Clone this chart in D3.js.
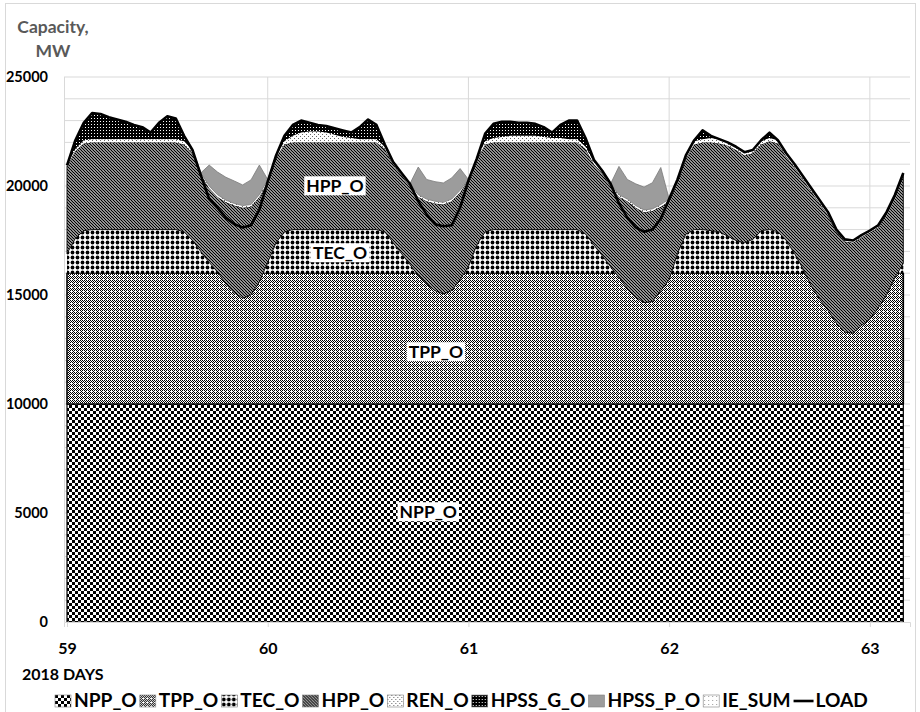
<!DOCTYPE html>
<html>
<head>
<meta charset="utf-8">
<script src="https://cdn.jsdelivr.net/npm/d3@7"></script>
<style>
  body { margin: 0; background: #fff; }
  text { font-family: Lato, "Open Sans", sans-serif; font-weight: bold; }
</style>
</head>
<body>
<script>
// hourly values, day 59 00:00 .. day 63 04:00 (MW)
var START_DAY = 59;
var HOURS = d3.range(101);

var NPP_O = [
  10000,10000,10000,10000,10000,10000,10000,10000,10000,10000,10000,10000,10000,10000,10000,10000,10000,10000,10000,10000,10000,10000,10000,10000,
  10000,10000,10000,10000,10000,10000,10000,10000,10000,10000,10000,10000,10000,10000,10000,10000,10000,10000,10000,10000,10000,10000,10000,10000,
  10000,10000,10000,10000,10000,10000,10000,10000,10000,10000,10000,10000,10000,10000,10000,10000,10000,10000,10000,10000,10000,10000,10000,10000,
  10000,10000,10000,10000,10000,10000,10000,10000,10000,10000,10000,10000,10000,10000,10000,10000,10000,10000,10000,10000,10000,10000,10000,10000,
  10000,10000,10000,10000,10000];
var TPP_O = [
  6000,6000,6000,6000,6000,6000,6000,6000,6000,6000,6000,6000,6000,6000,6000,6000,6000,6000,6000,6000,6000,6000,6000,6000,
  6000,6000,6000,6000,6000,6000,6000,6000,6000,6000,6000,6000,6000,6000,6000,6000,6000,6000,6000,6000,6000,6000,6000,6000,
  6000,6000,6000,6000,6000,6000,6000,6000,6000,6000,6000,6000,6000,6000,6000,6000,6000,6000,6000,6000,6000,6000,6000,6000,
  6000,6000,6000,6000,6000,6000,6000,6000,6000,6000,6000,6000,6000,6000,6000,6000,6000,6000,6000,6000,6000,6000,6000,6000,
  6000,6000,6000,6000,6000];
var TEC_O = [
  900,1600,1950,2000,2000,2000,2000,2000,2000,2000,2000,2000,2000,2000,1900,1500,1000,500,50,-500,-900,-1150,-1000,-400,
  500,1400,1900,2000,2000,2000,2000,2000,2000,2000,2000,2000,2000,2000,1900,1400,900,400,-100,-500,-800,-950,-800,-300,
  300,1300,1900,2000,2000,2000,2000,2000,2000,2000,2000,2000,2000,2000,1800,1300,800,300,-200,-700,-1100,-1350,-1300,-800,
  -300,900,1800,2000,2000,1950,1900,1700,1500,1400,1550,1950,2000,1900,1500,900,200,-600,-1200,-1700,-2300,-2700,-2750,-2400,
  -2100,-1600,-1000,-200,450];
var HPP_O = [
  4000,4000,4000,4000,4000,4000,4000,4000,4000,4000,4000,4000,4000,4000,4000,4000,3500,3400,3450,3750,4000,4150,4050,3900,
  3700,3900,4000,4000,4000,4000,4000,4000,4000,4000,4000,4000,4000,4000,3800,3600,3600,3600,3600,3800,4000,4100,4100,4000,
  4000,3900,4000,4000,4000,4000,4000,4000,4000,4000,4000,4000,4000,4000,3900,3700,3800,3700,3700,4000,4100,4150,4150,3850,
  3600,3300,3450,3900,4000,4050,4050,4150,4150,4000,3950,3950,4050,4050,3850,3950,4100,4350,4400,4350,4200,4150,4150,4050,
  3950,3700,3750,3750,4100];
var REN_O = [
  50,100,150,150,150,150,150,150,150,150,150,150,150,150,150,150,100,100,100,100,100,100,100,100,
  100,50,150,300,450,500,500,450,350,250,200,150,150,150,100,100,100,100,100,100,100,100,100,100,
  0,50,150,200,250,300,300,300,300,250,200,200,150,150,100,100,100,100,100,100,100,100,100,100,
  100,50,100,150,150,200,200,150,150,150,150,150,150,150,150,150,150,150,150,150,100,100,100,100,
  100,100,50,50,50];
var HPSS_G_O = [
  0,400,800,1200,1150,1000,900,800,650,550,300,750,1050,950,250,0,0,0,0,0,0,0,0,0,
  0,50,250,500,550,400,300,300,300,300,250,550,900,650,100,0,0,0,0,0,0,0,0,0,
  0,0,350,650,700,650,600,600,550,450,250,600,850,850,400,100,0,0,0,0,0,0,0,0,
  0,50,50,50,400,100,0,0,0,0,0,50,250,0,0,0,0,0,0,0,0,0,0,0,
  0,0,0,0,0];
var HPSS_P_O = [
  0,0,0,0,0,0,0,0,0,0,0,0,0,0,0,0,0,960,1040,1050,1030,950,1130,1360,
  0,0,0,0,0,0,0,0,0,0,0,0,0,0,0,0,0,0,1270,900,900,890,970,1000,
  0,0,0,0,0,0,0,0,0,0,0,0,0,0,0,0,0,0,1300,900,1000,1050,1200,1700,
  0,0,0,0,0,0,0,0,0,0,0,0,0,0,0,0,0,0,0,0,0,0,0,0,
  0,0,0,0,0];
var IE_SUM = [
  0,0,0,0,0,0,0,0,0,0,0,0,0,0,0,0,0,0,0,0,0,0,0,0,
  0,0,0,0,0,0,0,0,0,0,0,0,0,0,0,0,0,0,0,0,0,0,0,0,
  0,0,0,0,0,0,0,0,0,0,0,0,0,0,0,0,0,0,0,0,0,0,0,0,
  0,0,0,0,0,0,0,0,0,0,0,0,0,0,0,0,0,0,0,0,0,0,0,0,
  0,0,0,0,0];
var LOAD = [
  20950,22100,22900,23350,23300,23150,23050,22950,22800,22700,22450,22900,23200,23100,22300,21650,20500,19400,19000,18550,18250,18100,18200,18900,
  20200,21400,22300,22800,23000,22900,22800,22750,22650,22550,22450,22700,23050,22800,21900,21100,20600,20100,19300,18700,18250,18150,18200,19000,
  20250,21250,22400,22850,22950,22950,22900,22900,22850,22700,22450,22800,23000,23000,22200,21200,20700,20100,19200,18550,18100,17900,18000,18500,
  19400,20300,21400,22100,22550,22300,22150,22000,21800,21550,21650,22100,22450,22100,21500,21000,20450,19900,19350,18800,18000,17550,17500,17750,
  17950,18200,18800,19600,20600];

var KEYS = ["NPP_O", "TPP_O", "TEC_O", "HPP_O", "REN_O", "HPSS_G_O", "HPSS_P_O", "IE_SUM"];
var SERIES = { NPP_O: NPP_O, TPP_O: TPP_O, TEC_O: TEC_O, HPP_O: HPP_O, REN_O: REN_O,
               HPSS_G_O: HPSS_G_O, HPSS_P_O: HPSS_P_O, IE_SUM: IE_SUM };
var X_TICKS = [59, 60, 61, 62, 63];
var Y_TICKS = [0, 5000, 10000, 15000, 20000, 25000];
var LEGEND = ["NPP_O", "TPP_O", "TEC_O", "HPP_O", "REN_O", "HPSS_G_O", "HPSS_P_O", "IE_SUM", "LOAD"];
// in-plot labels: series, day, MW
var LABEL_NAMES = ["HPP_O", "TEC_O", "TPP_O", "NPP_O"];
var LABEL_DAYS = [60.335, 60.36, 60.838, 60.80];
var LABEL_VALUES = [20000, 16930, 12390, 5050];

window.onload = function() {

  var width = 920, height = 712;

  var svg = d3.select("body").append("svg")
      .attr("width", width)
      .attr("height", height);

  var defs = svg.append("defs");

  function pattern(id, w, h, bg) {
    var p = defs.append("pattern")
        .attr("id", id)
        .attr("patternUnits", "userSpaceOnUse")
        .attr("width", w)
        .attr("height", h);
    p.append("rect").attr("width", w).attr("height", h).attr("fill", bg);
    return p;
  }
  function px(p, cells, color) {
    cells.forEach(function(c) {
      p.append("rect").attr("x", c[0]).attr("y", c[1])
        .attr("width", c[2] || 1).attr("height", c[3] || 1).attr("fill", color);
    });
  }

  var pNPP = pattern("pNPP", 6, 6, "#fff");
  px(pNPP, [[0, 0, 3, 3], [3, 3, 3, 3]], "#000");

  // fine woven texture
  var pTPP = pattern("pTPP", 4, 4, "#fff");
  px(pTPP, [[0, 0], [2, 0], [1, 1], [3, 1], [0, 2], [2, 2], [1, 3]], "#000");

  var pTEC = pattern("pTEC", 5, 5, "#fff");
  pTEC.append("circle").attr("cx", 2.5).attr("cy", 2.5).attr("r", 1.9).attr("fill", "#000");

  var pHPP = pattern("pHPP", 3, 3, "#fff");
  pHPP.append("path").attr("d", "M-1,-1L4,4M-1,2L1,4M2,-1L4,1")
      .attr("stroke", "#000").attr("stroke-width", 1.25);

  var pREN = pattern("pREN", 4, 4, "#fff");
  px(pREN, [[0, 0], [2, 2]], "#666");

  var pG = pattern("pHG", 3, 3, "#000");
  px(pG, [[1, 1]], "#fff");

  var pIE = pattern("pIE", 4, 4, "#fff");
  px(pIE, [[1, 1]], "#999");

  var STYLE = {
    NPP_O:    { fill: "url(#pNPP)", stroke: "#000", sw: 1.2 },
    TPP_O:    { fill: "url(#pTPP)", stroke: "#000", sw: 1.6 },
    TEC_O:    { fill: "url(#pTEC)", stroke: "none", sw: 0 },
    HPP_O:    { fill: "url(#pHPP)", stroke: "#000", sw: 0.9 },
    REN_O:    { fill: "url(#pREN)", stroke: "none", sw: 0 },
    HPSS_G_O: { fill: "url(#pHG)", stroke: "none", sw: 0 },
    HPSS_P_O: { fill: "#9c9c9c", stroke: "#7a7a7a", sw: 0.8 },
    IE_SUM:   { fill: "url(#pIE)", stroke: "none", sw: 0 }
  };

  var x = d3.scaleLinear().domain([58.985, 63.2]).range([64, 910]);
  var y = d3.scaleLinear().domain([0, 25000]).range([622, 77]);

  // chart border
  svg.append("rect")
      .attr("x", 5.5).attr("y", 3.5)
      .attr("width", 910).attr("height", 720)
      .attr("fill", "none").attr("stroke", "#d9d9d9");

  // gridlines
  svg.append("g").selectAll("line")
      .data(y.ticks(25).filter(function(d) { return d > 0; }))
      .join("line")
      .attr("x1", 64).attr("x2", 910)
      .attr("y1", function(d) { return y(d); })
      .attr("y2", function(d) { return y(d); })
      .attr("stroke", "#d9d9d9");

  svg.append("g").selectAll("line")
      .data(X_TICKS.slice(1))
      .join("line")
      .attr("x1", function(d) { return x(d); })
      .attr("x2", function(d) { return x(d); })
      .attr("y1", 77).attr("y2", 622)
      .attr("stroke", "#d9d9d9");

  svg.append("line")
      .attr("x1", 64.5).attr("x2", 64.5).attr("y1", 77).attr("y2", 622)
      .attr("stroke", "#d9d9d9");

  // stacked areas
  var rows = HOURS.map(function(h, i) {
    var r = { t: START_DAY + h / 24 };
    KEYS.forEach(function(k) { r[k] = SERIES[k][i]; });
    return r;
  });

  var stack = d3.stack().keys(KEYS)
      .order(d3.stackOrderNone)
      .offset(d3.stackOffsetNone);

  var area = d3.area()
      .x(function(d) { return x(d.data.t); })
      .y0(function(d) { return y(d[0]); })
      .y1(function(d) { return y(d[1]); });

  svg.append("g").selectAll("path")
      .data(stack(rows))
      .join("path")
      .attr("d", area)
      .attr("fill", function(d) { return STYLE[d.key].fill; })
      .attr("stroke", function(d) { return STYLE[d.key].stroke; })
      .attr("stroke-width", function(d) { return STYLE[d.key].sw; })
      .attr("stroke-linejoin", "round");

  // load line
  var line = d3.line()
      .x(function(d, i) { return x(START_DAY + HOURS[i] / 24); })
      .y(function(d) { return y(d); });

  svg.append("path")
      .datum(LOAD)
      .attr("d", line)
      .attr("fill", "none")
      .attr("stroke", "#000")
      .attr("stroke-width", 2.6)
      .attr("stroke-linejoin", "round");

  // x axis
  var xAxis = svg.append("g")
      .attr("transform", "translate(0,622)")
      .call(d3.axisBottom(x).tickValues(X_TICKS).tickSize(5).tickPadding(15.5).tickFormat(d3.format("d")));
  xAxis.select(".domain").attr("stroke", "#d9d9d9");
  xAxis.selectAll(".tick line").attr("stroke", "#d9d9d9");
  xAxis.selectAll("text")
      .attr("font-family", "Lato")
      .attr("font-weight", "bold")
      .attr("font-size", "16px")
      .attr("fill", "#000");

  // y tick labels
  svg.append("g").selectAll("text")
      .data(Y_TICKS)
      .join("text")
      .attr("x", 48)
      .attr("y", function(d) { return y(d); })
      .attr("dy", "0.36em")
      .attr("text-anchor", "end")
      .attr("font-size", "14.5px")
      .attr("fill", "#000")
      .text(function(d) { return d; });

  // axis titles
  svg.append("text")
      .attr("x", 53).attr("y", 33)
      .attr("text-anchor", "middle")
      .attr("font-size", "17.5px")
      .attr("fill", "#595959")
      .text("Capacity,");
  svg.append("text")
      .attr("x", 53).attr("y", 57)
      .attr("text-anchor", "middle")
      .attr("font-size", "17.5px")
      .attr("fill", "#595959")
      .text("MW");

  svg.append("text")
      .attr("x", 22).attr("y", 680)
      .attr("font-size", "16px")
      .attr("fill", "#000")
      .text("2018 DAYS");

  // in-plot data labels
  LABEL_NAMES.forEach(function(name, i) {
    var g = svg.append("g");
    var t = g.append("text")
        .attr("x", x(LABEL_DAYS[i]))
        .attr("y", y(LABEL_VALUES[i]))
        .attr("dy", "0.36em")
        .attr("text-anchor", "middle")
        .attr("font-size", "17.5px")
        .attr("fill", "#000")
        .text(name);
    var b = t.node().getBBox();
    g.insert("rect", "text")
        .attr("x", b.x - 2).attr("y", b.y + 1)
        .attr("width", b.width + 4).attr("height", b.height - 2)
        .attr("fill", "#fff");
  });

  // legend
  var legend = svg.append("g");
  var swW = 16, swH = 12, legLeft = 55, legRight = 868, legY = 707;
  var fs = 17.5;
  var items = legend.selectAll("g")
      .data(LEGEND)
      .join("g");
  items.each(function(k) {
    var g = d3.select(this);
    if (k === "LOAD") {
      g.append("line")
          .attr("x1", 0).attr("x2", swW + 4)
          .attr("y1", -6).attr("y2", -6)
          .attr("stroke", "#000").attr("stroke-width", 2.6);
    } else {
      g.append("rect")
          .attr("x", 0).attr("y", -12)
          .attr("width", swW).attr("height", swH)
          .attr("fill", STYLE[k].fill)
          .attr("stroke", "#7f7f7f").attr("stroke-width", 0.6);
    }
    g.append("text")
        .attr("x", k === "LOAD" ? swW + 6 : swW + 3)
        .attr("y", 0)
        .attr("font-size", fs + "px")
        .attr("fill", "#000")
        .text(k);
  });

  function layout() {
    var pos = legLeft;
    items.each(function(k) {
      var g = d3.select(this);
      g.attr("transform", "translate(" + pos + "," + legY + ")");
      var tw = g.select("text").node().getComputedTextLength();
      pos += (k === "LOAD" ? swW + 6 : swW + 3) + tw + 3;
    });
    return pos - 3;
  }
  var end = layout();
  var textTotal = 0;
  items.selectAll("text").each(function() { textTotal += this.getComputedTextLength(); });
  fs = fs * (textTotal + (legRight - end)) / textTotal;
  items.selectAll("text").attr("font-size", fs + "px");
  layout();
};
</script>
</body>
</html>
